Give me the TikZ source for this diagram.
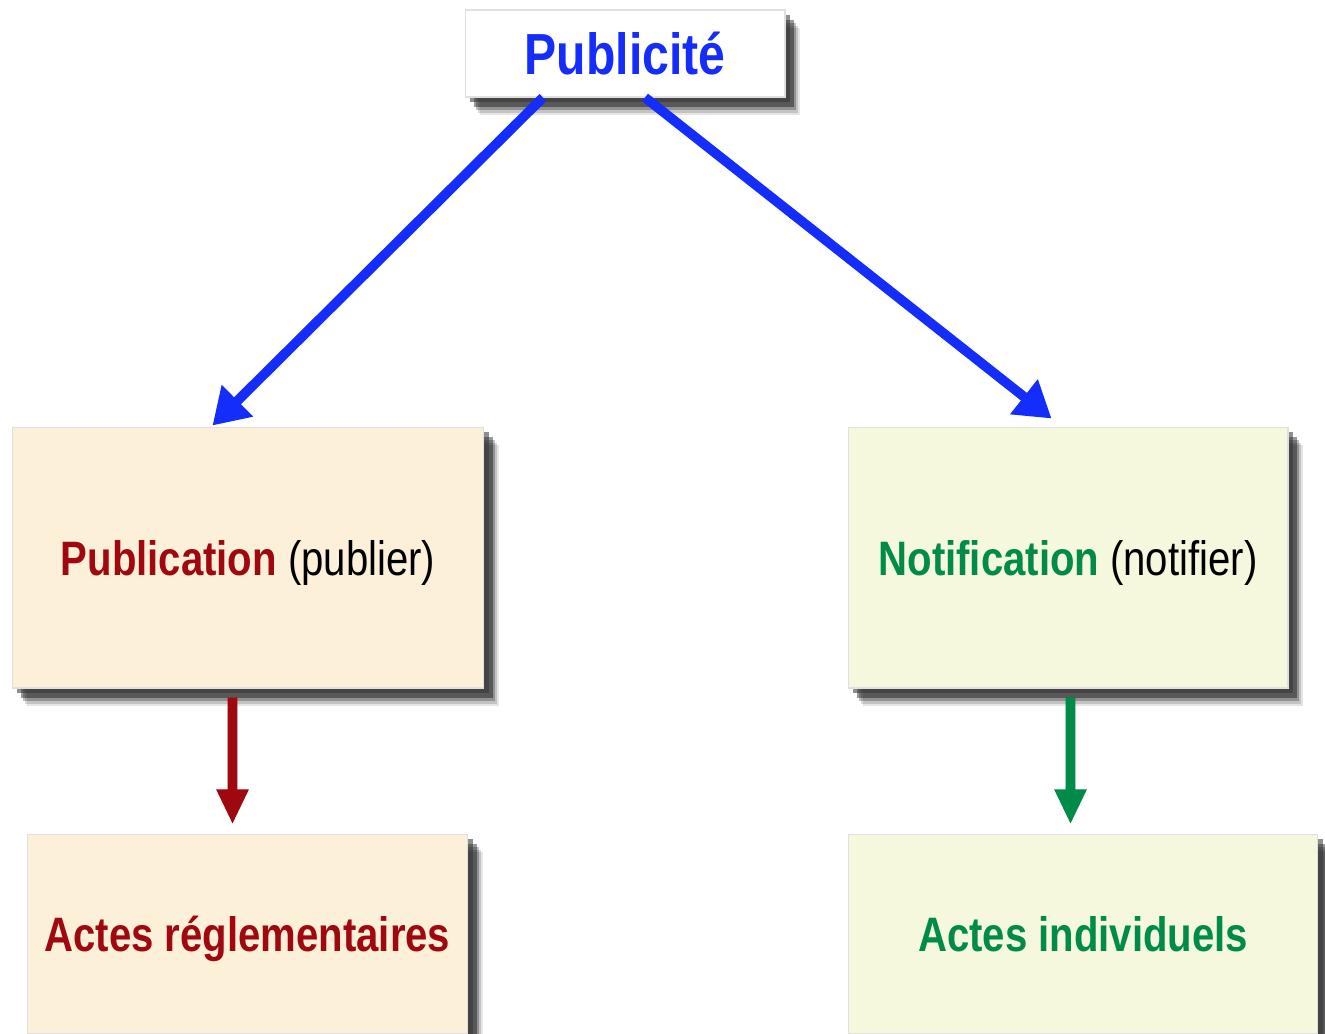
\documentclass[tikz,border=0pt]{standalone}
\usepackage{fontspec}
\setmainfont{Liberation Sans}[FakeStretch=0.83]
\usetikzlibrary{shadows,calc,arrows.meta}
\definecolor{pblue}{RGB}{20,45,250}
\definecolor{pred}{RGB}{160,8,16}
\definecolor{pgreen}{RGB}{0,140,72}
\definecolor{cream}{RGB}{252,241,216}
\definecolor{lgreen}{RGB}{245,248,220}
\tikzset{
  box/.style={rectangle, inner sep=0pt, draw=black!12, line width=0.6pt,
    general shadow={shadow xshift=8.5pt, shadow yshift=-10.5pt, fill=black, opacity=0.1},
    general shadow={shadow xshift=7.5pt, shadow yshift=-9pt, fill=black, opacity=0.15},
    general shadow={shadow xshift=6.5pt, shadow yshift=-7.5pt, fill=black, opacity=0.25},
    general shadow={shadow xshift=5pt, shadow yshift=-5.5pt, fill=black, opacity=0.4},
    general shadow={shadow xshift=3pt, shadow yshift=-3pt, fill=black!80, opacity=0.55}},
  arr/.style={line width=5.5pt, -{Triangle[length=20pt,width=24pt]}},
  varr/.style={line width=5.5pt, -{Triangle[length=20pt,width=17pt]}},
  shd/.style={draw=black, opacity=0.12, shift={(5,5)}},
  lbl/.style={font=\fontsize{27.5}{32}\selectfont},
}
\newcommand\lowered[1]{\raisebox{-10pt}[0pt][0pt]{#1}}
\begin{document}
\begin{tikzpicture}[x=0.02cm,y=-0.02cm]
\useasboundingbox (0,0) rectangle (1325,1034);
\begin{scope}
\clip (0,0) rectangle (1325,1034);
\node[box, fill=white, minimum width=6.4cm, minimum height=1.74cm] (pub) at (625,53.5)
  {\fontsize{33}{38}\selectfont\bfseries\color{pblue}Publicité};
\node[box, lbl, fill=cream, minimum width=9.44cm, minimum height=5.22cm] (publ) at (248,557.5)
  {\lowered{{\bfseries\color{pred}Publication} (publier)}};
\node[box, lbl, fill=lgreen, minimum width=8.8cm, minimum height=5.22cm] (notif) at (1068,557.5)
  {\lowered{{\bfseries\color{pgreen}Notification} (notifier)}};
\node[box, lbl, fill=cream, minimum width=8.82cm, minimum height=4.0cm] (reg) at (247.5,934)
  {\lowered{\bfseries\color{pred}Actes réglementaires}};
\node[box, lbl, fill=lgreen, minimum width=9.4cm, minimum height=4.0cm] (ind) at (1083,934)
  {\lowered{\bfseries\color{pgreen}Actes individuels}};
\end{scope}
% arrows
\coordinate (a1) at ($(pub.south)+(-82,0)$);
\coordinate (t1) at ($(publ.north west)+(201,-1)$);
\coordinate (a2) at ($(pub.south)+(20,0)$);
\coordinate (t2) at ($(notif.north west)+(204,-8)$);
\draw[arr, shd] (a1) -- (t1);
\draw[arr, shd] (a2) -- (t2);
\draw[arr, pblue] (a1) -- (t1);
\draw[arr, pblue] (a2) -- (t2);
\coordinate (b1) at ($(publ.south west)+(221,9)$);
\coordinate (c1) at ($(reg.north west)+(206,-9)$);
\coordinate (b2) at ($(notif.south west)+(223,9)$);
\coordinate (c2) at ($(ind.north west)+(223,-9)$);
\draw[varr, shd] (b1) -- (c1);
\draw[varr, shd] (b2) -- (c2);
\draw[varr, pred] (b1) -- (c1);
\draw[varr, pgreen] (b2) -- (c2);
\end{tikzpicture}
\end{document}
